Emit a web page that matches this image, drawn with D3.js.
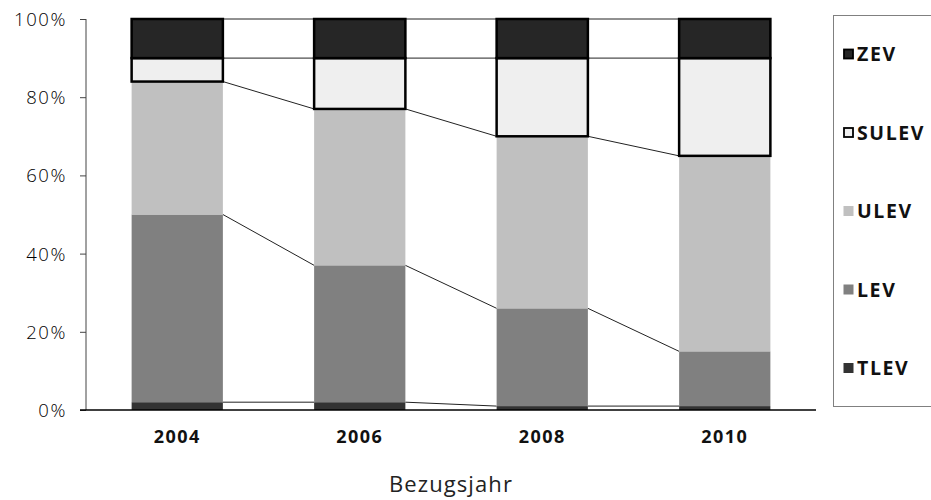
<!DOCTYPE html>
<html>
<head>
<meta charset="utf-8">
<script src="https://cdn.jsdelivr.net/npm/d3@7"></script>
<style>
  html, body { margin: 0; padding: 0; background: #fff; }
  svg { display: block; }
  .ytick text { font-family: "Open Sans", sans-serif; font-weight: 300; font-size: 18.5px; letter-spacing: 1.6px; fill: #000; }
  .xtick text { font-family: "Open Sans", sans-serif; font-weight: 700; font-size: 18px; letter-spacing: 1.4px; fill: #111; }
  .legend text { font-family: "Open Sans", sans-serif; font-weight: 700; font-size: 19.5px; letter-spacing: 1.6px; fill: #111; }
  .title { font-family: "Open Sans", sans-serif; font-size: 22px; letter-spacing: 1.1px; fill: #222; }
</style>
</head>
<body>
<script>
// Anteile der Abgasklassen je Bezugsjahr (in %)
const years = ["2004", "2006", "2008", "2010"];
const TLEV  = [2, 2, 1, 1];
const LEV   = [48, 35, 25, 14];
const ULEV  = [34, 40, 44, 50];
const SULEV = [6, 13, 20, 25];
const ZEV   = [10, 10, 10, 10];
const yTicks = [0, 20, 40, 60, 80, 100];
const tickLabels = ["0%", "20%", "40%", "60%", "80%", "100%"];

// Stapelreihenfolge von unten nach oben
const seriesNames = ["TLEV", "LEV", "ULEV", "SULEV", "ZEV"];
const seriesValues = { TLEV, LEV, ULEV, SULEV, ZEV };
const fills   = { TLEV: "#333333", LEV: "#808080", ULEV: "#c0c0c0", SULEV: "#efefef", ZEV: "#262626" };
const outline = { TLEV: false, LEV: false, ULEV: false, SULEV: true, ZEV: true };

const W = 931, H = 500;
const plot = { left: 86, right: 816, top: 19, bottom: 410 };

const svg = d3.select("body").append("svg").attr("width", W).attr("height", H);

const rows = years.map((y, i) => {
  const r = { year: y };
  seriesNames.forEach(s => r[s] = seriesValues[s][i]);
  return r;
});
const stacked = d3.stack().keys(seriesNames)(rows);

const x = d3.scaleBand().domain(years).range([plot.left, plot.right])
  .paddingInner(0.5).paddingOuter(0.25);
const y = d3.scaleLinear().domain([0, 100]).range([plot.bottom, plot.top]);

// Verbindungslinien zwischen den Säulen (Oberkante jeder Reihe)
const lineG = svg.append("g");
stacked.forEach(layer => {
  for (let i = 0; i < years.length - 1; i++) {
    lineG.append("line")
      .attr("x1", x(years[i]) + x.bandwidth())
      .attr("x2", x(years[i + 1]))
      .attr("y1", y(layer[i][1]))
      .attr("y2", y(layer[i + 1][1]))
      .attr("stroke", "#222")
      .attr("stroke-width", 1);
  }
});

// Säulen
const barG = svg.append("g");
stacked.forEach(layer => {
  const key = layer.key;
  barG.selectAll(null).data(layer).join("rect")
    .attr("x", (d, i) => x(years[i]))
    .attr("width", x.bandwidth())
    .attr("y", d => y(d[1]))
    .attr("height", d => y(d[0]) - y(d[1]))
    .attr("fill", fills[key])
    .attr("stroke", outline[key] ? "#000" : "none")
    .attr("stroke-width", outline[key] ? 2.5 : 0);
});

// y-Achse
const yAxis = d3.axisLeft(y).tickValues(yTicks)
  .tickFormat((d, i) => tickLabels[i]).tickSize(6).tickPadding(13);
const yg = svg.append("g").attr("class", "ytick")
  .attr("transform", `translate(${plot.left},0)`).call(yAxis);
yg.select(".domain").attr("stroke", "#444").attr("d", `M0,${plot.top}V${plot.bottom}`);
yg.selectAll(".tick line").attr("stroke", "#444");
yg.selectAll(".tick text").attr("dy", "0.35em");

// x-Achse
const xAxis = d3.axisBottom(x).tickSize(0).tickPadding(20);
const xg = svg.append("g").attr("class", "xtick")
  .attr("transform", `translate(0,${plot.bottom})`).call(xAxis);
xg.select(".domain").attr("stroke", "#000").attr("stroke-width", 1.5)
  .attr("d", `M${plot.left - 6},0H${plot.right}`);

// Achsentitel
svg.append("text").attr("class", "title")
  .attr("x", (plot.left + plot.right) / 2).attr("y", 492)
  .attr("text-anchor", "middle").text("Bezugsjahr");

// Legende
const lg = svg.append("g").attr("class", "legend");
lg.append("rect").attr("x", 833.5).attr("y", 15.5).attr("width", 120).attr("height", 391)
  .attr("fill", "#fff").attr("stroke", "#808080").attr("stroke-width", 1);
const legendOrder = seriesNames.slice().reverse();
const ly = d3.scalePoint().domain(legendOrder).range([54, 368]);
legendOrder.forEach(s => {
  const cy = ly(s);
  lg.append("rect")
    .attr("x", outline[s] ? 844 : 843.5).attr("y", outline[s] ? cy - 4.5 : cy - 5)
    .attr("width", outline[s] ? 9 : 10).attr("height", outline[s] ? 9 : 10)
    .attr("fill", fills[s])
    .attr("stroke", outline[s] ? "#000" : "none")
    .attr("stroke-width", outline[s] ? 1.8 : 0);
  lg.append("text").attr("x", 857).attr("y", cy).attr("dy", "0.38em").text(s);
});
</script>
</body>
</html>
